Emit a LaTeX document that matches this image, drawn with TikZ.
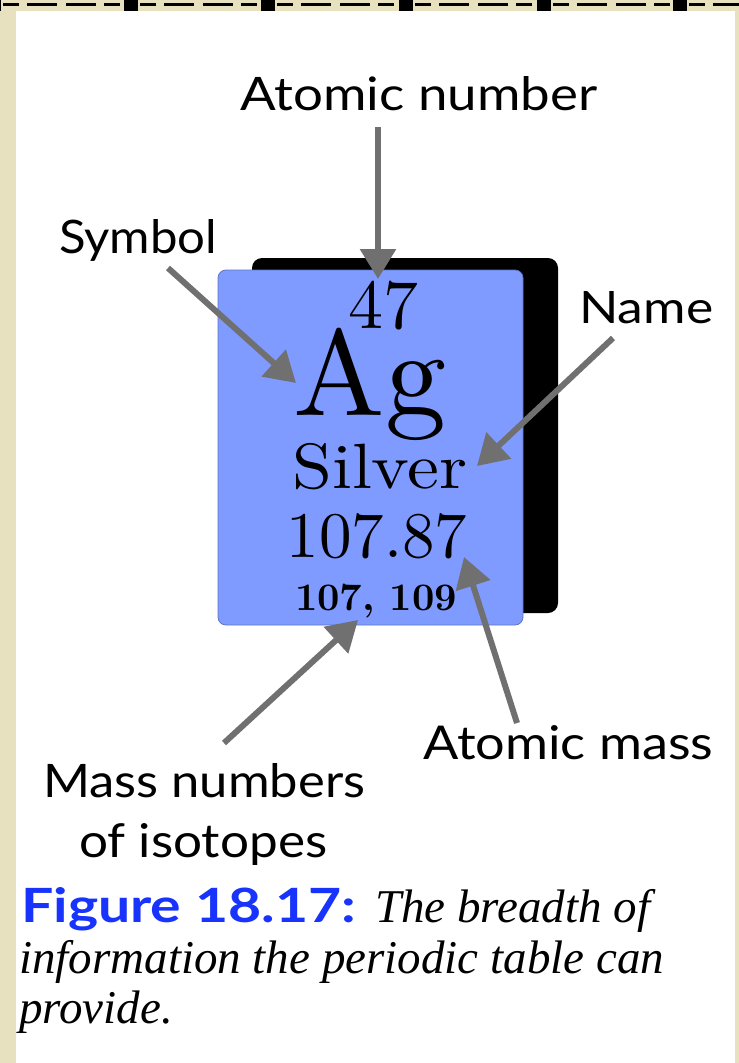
\documentclass[tikz,border=0pt]{standalone}
\usepackage{graphicx}
\usepackage{fontspec}
\newfontfamily\labfont{Lato}
\newfontfamily\capserif{Liberation Serif}
\newfontfamily\elemfont{lmroman10-regular.otf}[BoldFont=lmroman10-bold.otf]
\usetikzlibrary{arrows.meta}
\definecolor{beige}{RGB}{231,225,192}
\definecolor{tileblue}{RGB}{128,155,255}
\definecolor{tileedge}{RGB}{96,116,200}
\definecolor{arrowgray}{RGB}{112,112,112}
\definecolor{capblue}{RGB}{24,52,252}
\begin{document}
\begin{tikzpicture}[x=1pt,y=-1pt,
  lab/.style={inner sep=0pt, anchor=base west, font=\labfont\fontsize{44}{44}\selectfont},
  elem/.style={inner sep=0pt, anchor=base},
  capline/.style={inner sep=0pt, anchor=base west, font=\capserif\itshape\fontsize{47}{50}\selectfont},
  pointer/.style={draw=arrowgray, line width=6pt, -{Triangle[length=30pt,width=35pt]}},
  squarebit/.style={fill=black},
]
\useasboundingbox (0,0) rectangle (739,1063);
\clip (0,0) rectangle (739,1063);
\fill[beige] (0,0) rectangle (739,1063);
\fill[white] (16,11) rectangle (735,1063);
% dashed top border with squares
\foreach \q in {-13,124,261,399,537,673,810} {
  \fill[squarebit] (\q,0) rectangle (\q+14,11);
  \fill[squarebit] (\q+16,3.3) rectangle (\q+32,6.3);
  \fill[squarebit] (\q+40,3.3) rectangle (\q+70,6.3);
  \fill[squarebit] (\q+79,3.3) rectangle (\q+109,6.3);
  \fill[squarebit] (\q+117,3.3) rectangle (\q+133,6.3);
}
% element tile
\node[fill=black, rounded corners=10pt, minimum width=306pt, minimum height=355pt, inner sep=0pt] (back) at (405,435.5) {};
\node[fill=tileblue, draw=tileedge, line width=0.8pt, rounded corners=8pt, minimum width=305pt, minimum height=355pt, inner sep=0pt] (tile) at (370.5,447.5) {};
\node[elem, font=\elemfont\fontsize{70}{70}\selectfont] (num) at (383,328) {47};
\node[elem, font=\elemfont\fontsize{122}{122}\selectfont] (sym) at (370,415) {Ag};
\node[elem, font=\elemfont\fontsize{64}{64}\selectfont] (nm) at (380,488) {\scalebox{1.12}[1]{Silver}};
\node[elem, font=\elemfont\fontsize{65}{65}\selectfont] (am) at (377,557) {107.87};
\node[elem, font=\elemfont\bfseries\fontsize{39}{39}\selectfont] (iso) at (376,610) {107, 109};
% labels
\node[lab] (lan) at (240,110) {\resizebox{357pt}{34pt}{Atomic number}};
\node[lab] (lsym) at (59,253) {\resizebox{158pt}{34pt}{Symbol}};
\node[lab] (lname) at (579,323) {\resizebox{134pt}{32pt}{Name}};
\node[lab] (lmass) at (423,759) {\resizebox{290pt}{34pt}{Atomic mass}};
\node[lab] (liso) at (43,797) {\resizebox{322pt}{34pt}{Mass numbers}};
\node[lab] (liso2) at (79,857) {\resizebox{248pt}{34pt}{of isotopes}};
% arrows
\coordinate (anT) at (378,127);  \coordinate (anH) at (378,279);
\coordinate (symT) at (168,268); \coordinate (symH) at (296,383);
\coordinate (nmT) at (613,338);  \coordinate (nmH) at (477,466);
\coordinate (amT) at (517,723);  \coordinate (amH) at (464,557);
\coordinate (isoT) at (224,743); \coordinate (isoH) at (358,620);
\draw[pointer] (anT) -- (anH);
\draw[pointer] (symT) -- (symH);
\draw[pointer] (nmT) -- (nmH);
\draw[pointer] (amT) -- (amH);
\draw[pointer] (isoT) -- (isoH);
% caption
\node[lab, text=capblue, font=\labfont\bfseries\fontsize{46}{46}\selectfont] (fig) at (21,922) {\resizebox{335pt}{35pt}{Figure 18.17:}};
\node[capline] (c1) at (375,922) {The breadth of};
\node[capline] (c2) at (19,973) {information the periodic table can};
\node[capline] (c3) at (19,1023) {provide.};
\end{tikzpicture}
\end{document}
